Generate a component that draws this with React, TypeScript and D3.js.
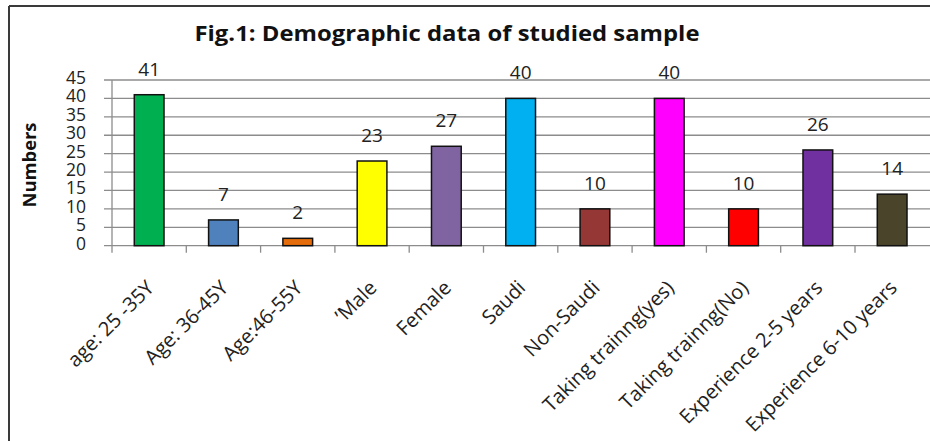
import React from "react";
import * as d3 from "d3";

const categories = [
  "age: 25 -35Y",
  "Age: 36-45Y",
  "Age:46-55Y",
  "’Male",
  "Female",
  "Saudi",
  "Non-Saudi",
  "Taking trainng(yes)",
  "Taking trainng(No)",
  "Experience 2-5 years",
  "Experience 6-10 years",
];
const values = [41, 7, 2, 23, 27, 40, 10, 40, 10, 26, 14];
const colors = [
  "#00B050",
  "#4F81BD",
  "#E46C0A",
  "#FFFF00",
  "#8064A2",
  "#00B0F0",
  "#953735",
  "#FF00FF",
  "#FF0000",
  "#7030A0",
  "#4A452A",
];
const yTicks = [0, 5, 10, 15, 20, 25, 30, 35, 40, 45];
const title = "Fig.1: Demographic data of studied sample";
const yTitle = "Numbers";

const W = 930;
const H = 441;
const FONT = "'Open Sans', 'Noto Sans', sans-serif";

export default function App() {
  const x = d3
    .scaleBand<string>()
    .domain(categories)
    .range([112, 112 + 74.3 * categories.length])
    .paddingInner(0.6)
    .paddingOuter(0.3);
  const xb = d3.scaleBand<string>().domain(categories).range([112, 112 + 74.3 * categories.length]);
  const y = d3.scaleLinear().domain([0, 45]).range([245.7, 80]);

  return (
    <svg
      width={W}
      height={H}
      style={{ position: "absolute", left: 0, top: 0, background: "#fff" }}
      fontFamily={FONT}
    >
      <rect x={0} y={0} width={W} height={H} fill="#fff" />
      {/* outer border */}
      <line x1={9} y1={6} x2={W} y2={6} stroke="#3a3a3a" strokeWidth={2} />
      <line x1={9} y1={6} x2={9} y2={H} stroke="#3a3a3a" strokeWidth={2} />

      {/* title */}
      <text
        x={447}
        y={41}
        textAnchor="middle"
        fontWeight="bold"
        fontSize={22}
        fill="#111"
        textLength={505}
        lengthAdjust="spacingAndGlyphs"
      >
        {title}
      </text>

      {/* gridlines */}
      {yTicks.map((t) => (
        <line key={"g" + t} x1={104} x2={W} y1={y(t)} y2={y(t)} stroke="#8c8c8c" strokeWidth={1.3} />
      ))}
      {/* y axis */}
      <line x1={112} x2={112} y1={y(45)} y2={y(0)} stroke="#8c8c8c" strokeWidth={1.3} />
      {yTicks.map((t) => (
        <text
          key={"t" + t}
          x={86}
          y={y(t) - 3}
          textAnchor="end"
          dominantBaseline="central"
          fontSize={17.5}
          fill="#222"
        >
          {t}
        </text>
      ))}
      <text
        transform={`translate(36,165) rotate(-90)`}
        textAnchor="middle"
        fontWeight="bold"
        fontSize={17}
        fill="#111"
        textLength={85}
        lengthAdjust="spacingAndGlyphs"
      >
        {yTitle}
      </text>

      {/* x ticks */}
      {categories.map((c) => (
        <line
          key={"xt" + c}
          x1={xb(c)!}
          x2={xb(c)!}
          y1={y(0)}
          y2={y(0) + 7}
          stroke="#8c8c8c"
          strokeWidth={1.3}
        />
      ))}

      {/* bars */}
      {categories.map((c, i) => (
        <rect
          key={"b" + c}
          x={x(c)!}
          y={y(values[i])}
          width={x.bandwidth()}
          height={y(0) - y(values[i])}
          fill={colors[i]}
          stroke="#111"
          strokeWidth={1.5}
        />
      ))}

      {/* value labels */}
      {categories.map((c, i) => (
        <text
          key={"v" + c}
          x={xb(c)! + xb.bandwidth() / 2}
          y={y(values[i]) - 19}
          textAnchor="middle"
          fontSize={19}
          fill="#222"
        >
          {values[i]}
        </text>
      ))}

      {/* category labels */}
      {categories.map((c) => {
        const cx = xb(c)! + xb.bandwidth() / 2 + 6;
        return (
          <text
            key={"l" + c}
            transform={`translate(${cx},289) rotate(-45)`}
            textAnchor="end"
            fontSize={20}
            fill="#222"
          >
            {c}
          </text>
        );
      })}
    </svg>
  );
}
